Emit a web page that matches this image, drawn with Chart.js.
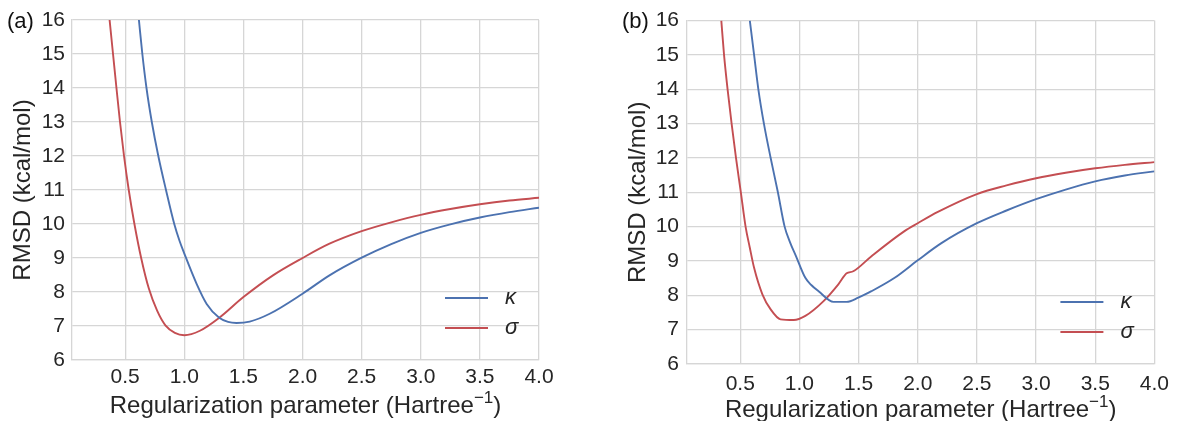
<!DOCTYPE html>
<html>
<head>
<meta charset="utf-8">
<script src="https://cdn.jsdelivr.net/npm/chart.js@4.4.1/dist/chart.umd.min.js"></script>
<style>
  html, body { margin: 0; padding: 0; background: #fff; }
  #wrap { position: relative; width: 1177px; height: 421px; }
  canvas { position: absolute; top: 0; }
  #chartA { left: 0; }
  #chartB { left: 600px; }
</style>
</head>
<body>
<div id="wrap">
  <canvas id="chartA" width="560" height="421"></canvas>
  <canvas id="chartB" width="577" height="421"></canvas>
</div>
<script>
// x ticks shared by both panels
const xTicks = [0.5, 1.0, 1.5, 2.0, 2.5, 3.0, 3.5, 4.0];

// Panel (a)
const aKappaX = [0.616, 0.645, 0.68, 0.725, 0.78, 0.845, 0.915, 0.96, 1.0, 1.104, 1.189, 1.295, 1.37, 1.441, 1.553, 1.722, 2.0, 2.228, 2.5, 2.75, 3.0, 3.25, 3.5, 3.75, 4.0];
const aKappaY = [16, 15, 14, 13, 12, 11, 10, 9.5, 9.13, 8.24, 7.65, 7.24, 7.12, 7.09, 7.13, 7.36, 7.95, 8.49, 9.01, 9.41, 9.74, 9.99, 10.19, 10.35, 10.48];
const aSigmaX = [0.368, 0.397, 0.426, 0.456, 0.49, 0.53, 0.578, 0.635, 0.70, 0.77, 0.84, 0.92, 1.0, 1.132, 1.295, 1.5, 1.75, 2.0, 2.228, 2.5, 2.75, 3.0, 3.25, 3.5, 3.75, 4.0];
const aSigmaY = [16, 15, 14, 13, 12, 11, 10, 9, 8.1, 7.45, 7.02, 6.8, 6.73, 6.86, 7.24, 7.85, 8.49, 9.0, 9.42, 9.79, 10.05, 10.27, 10.44, 10.58, 10.69, 10.77];

// Panel (b)
const bKappaX = [0.581, 0.617, 0.653, 0.70, 0.757, 0.818, 0.875, 0.92, 0.97, 1.05, 1.1, 1.162, 1.288, 1.399, 1.497, 1.609, 1.805, 2.0, 2.2, 2.5, 2.75, 3.0, 3.25, 3.5, 3.75, 4.0];
const bKappaY = [16, 15, 14, 13, 12, 11, 10, 9.55, 9.15, 8.51, 8.3, 8.12, 7.81, 7.81, 7.93, 8.12, 8.51, 9.02, 9.52, 10.1, 10.47, 10.8, 11.08, 11.32, 11.49, 11.61];
const bSigmaX = [0.34, 0.363, 0.393, 0.427, 0.464, 0.505, 0.545, 0.58, 0.617, 0.687, 0.757, 0.841, 0.952, 1.05, 1.204, 1.329, 1.399, 1.455, 1.609, 1.888, 2.0, 2.17, 2.5, 2.75, 3.0, 3.25, 3.5, 3.75, 4.0];
const bSigmaY = [16, 15, 14, 13, 12, 11, 10, 9.4, 8.8, 8.03, 7.59, 7.3, 7.28, 7.4, 7.83, 8.32, 8.64, 8.7, 9.14, 9.87, 10.1, 10.43, 10.95, 11.2, 11.41, 11.57, 11.7, 11.8, 11.88];

const seriesLabels = ['\u03ba', '\u03c3'];
const BLUE = '#4c72b0';
const RED = '#c44e52';
const FONT = '"Liberation Sans", Arial, sans-serif';
const TEXT = '#262626';
const GRID = '#d6d6d6';

function pts(xs, ys) {
    return xs.map((x, i) => ({ x: x, y: ys[i] }));
}

// panel letter, x title with a real superscript, legend in lower right
const decorations = {
    id: 'decorations',
    afterDraw(chart, args, opts) {
        const ctx = chart.ctx;
        const area = chart.chartArea;
        ctx.save();
        ctx.fillStyle = '#111';
        ctx.font = '22px ' + FONT;
        ctx.textBaseline = 'alphabetic';
        ctx.textAlign = 'left';
        ctx.fillText(opts.tag, area.left - 65, 28);

        // x axis title
        const main = 'Regularization parameter (Hartree';
        const sup = '\u22121';
        const big = '24px ' + FONT, small = '17px ' + FONT;
        ctx.fillStyle = TEXT;
        ctx.font = big;
        const w1 = ctx.measureText(main).width;
        const w3 = ctx.measureText(')').width;
        ctx.font = small;
        const w2 = ctx.measureText(sup).width;
        let x = (area.left + area.right) / 2 - (w1 + w2 + w3) / 2;
        const base = opts.titleBase;
        ctx.font = big;
        ctx.fillText(main, x, base);
        x += w1;
        ctx.font = small;
        ctx.fillText(sup, x, base - 10);
        x += w2;
        ctx.font = big;
        ctx.fillText(')', x, base);

        chart.data.datasets.forEach((ds, i) => {
            const y = area.bottom - 62 + i * 30;
            ctx.strokeStyle = ds.borderColor;
            ctx.lineWidth = 1.9;
            ctx.beginPath();
            ctx.moveTo(area.right - 94, y);
            ctx.lineTo(area.right - 51, y);
            ctx.stroke();
            ctx.fillStyle = TEXT;
            ctx.font = 'italic 22px ' + FONT;
            ctx.textBaseline = 'middle';
            ctx.fillText(ds.label, area.right - 34, y);
        });
        ctx.restore();
    }
};

function makePanel(id, tag, kx, ky, sx, sy, layout) {
    const ctx = document.getElementById(id).getContext('2d');
    return new Chart(ctx, {
        type: 'line',
        data: {
            datasets: [{
                label: seriesLabels[0],
                data: pts(kx, ky),
                borderColor: BLUE,
                borderWidth: 1.9,
                pointRadius: 0,
                cubicInterpolationMode: 'monotone'
            }, {
                label: seriesLabels[1],
                data: pts(sx, sy),
                borderColor: RED,
                borderWidth: 1.9,
                pointRadius: 0,
                cubicInterpolationMode: 'monotone'
            }]
        },
        options: {
            responsive: false,
            animation: false,
            events: [],
            layout: { padding: { left: 0, right: layout.right, top: 20, bottom: 0 } },
            plugins: {
                legend: { display: false },
                tooltip: { enabled: false },
                decorations: { tag: tag, titleBase: layout.titleBase }
            },
            scales: {
                x: {
                    type: 'linear',
                    min: 0.05,
                    max: 4.0,
                    afterBuildTicks: (scale) => { scale.ticks = xTicks.map(v => ({ value: v })); },
                    afterFit: (scale) => { scale.height = layout.xh; },
                    grid: { color: GRID, lineWidth: 1.3, drawTicks: false },
                    border: { color: GRID, width: 1.3 },
                    ticks: {
                        color: TEXT,
                        padding: layout.xpad,
                        maxRotation: 0,
                        font: { family: FONT, size: 21 },
                        callback: (v) => Number(v).toFixed(1)
                    }
                },
                y: {
                    min: 6,
                    max: 16,
                    afterFit: (scale) => { scale.width = layout.yw; },
                    grid: { color: GRID, lineWidth: 1.3, drawTicks: false },
                    border: { color: GRID, width: 1.3 },
                    ticks: {
                        stepSize: 1,
                        color: TEXT,
                        padding: layout.ypad,
                        font: { family: FONT, size: 21 }
                    },
                    title: {
                        display: true,
                        text: 'RMSD (kcal/mol)',
                        color: TEXT,
                        font: { family: FONT, size: 24 },
                        padding: { top: layout.ytpad, bottom: 0 }
                    }
                }
            }
        },
        plugins: [decorations]
    });
}

makePanel('chartA', '(a)', aKappaX, aKappaY, aSigmaX, aSigmaY,
    { right: 21, xh: 61, yw: 72, xpad: 5, ypad: 7, titleBase: 413, ytpad: 9 });
makePanel('chartB', '(b)', bKappaX, bKappaY, bSigmaX, bSigmaY,
    { right: 18, xh: 57, yw: 87, xpad: 8, ypad: 8, titleBase: 417, ytpad: 24 });
</script>
</body>
</html>
